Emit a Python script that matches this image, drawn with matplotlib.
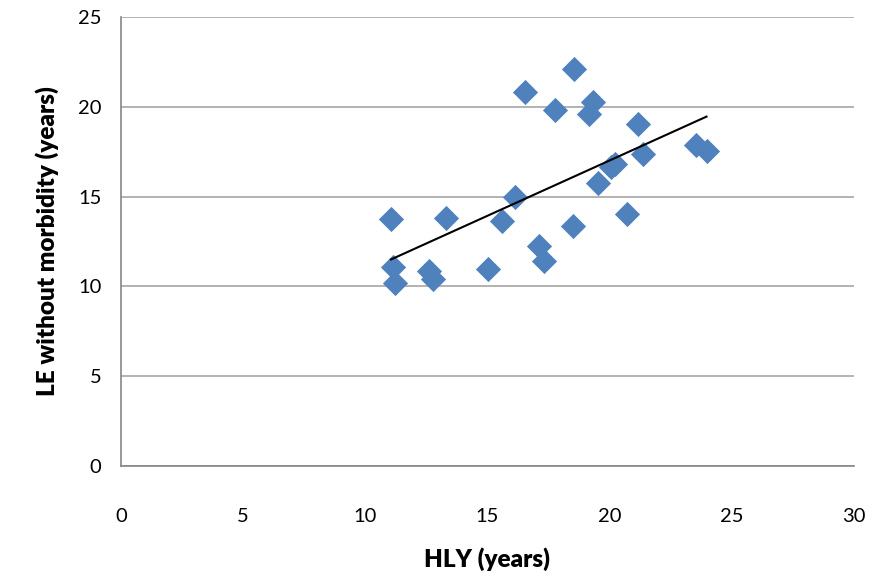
import numpy as np
import matplotlib
matplotlib.use("Agg")
import matplotlib.pyplot as plt

# HLY (years) vs LE without morbidity (years)
hly = [11.05, 13.29, 11.12, 11.23, 12.62, 12.79, 15.02, 15.58, 16.15, 16.54,
       17.11, 17.31, 17.77, 18.49, 18.54, 19.33, 19.14, 19.52, 20.04, 20.22,
       20.71, 21.15, 21.38, 23.56, 23.97]
le_free = [13.75, 13.79, 11.06, 10.21, 10.86, 10.39, 10.95, 13.66, 14.99, 20.84,
           12.25, 11.43, 19.82, 13.36, 22.10, 20.29, 19.58, 15.74, 16.63, 16.81,
           14.03, 19.04, 17.37, 17.87, 17.54]
x_ticks = [0, 5, 10, 15, 20, 25, 30]
y_ticks = [0, 5, 10, 15, 20, 25]

plt.rcParams['font.family'] = ['Lato', 'DejaVu Sans']

fig = plt.figure(figsize=(8.73, 5.81), dpi=100)
ax = fig.add_axes([0.1386, 0.198, 0.8394, 0.7727])

ax.scatter(hly, le_free, marker='D', s=165, color='#4F81BD', zorder=3, linewidths=0)

# linear trend line over the data range
k, b = np.polyfit(hly, le_free, 1)
xs = np.array([min(hly), max(hly)])
ax.plot(xs, k * xs + b, color='black', lw=1.5, zorder=4)

ax.set_xlim(0, 30)
ax.set_ylim(0, 25)
ax.set_xticks(x_ticks)
ax.set_yticks(y_ticks)
ax.yaxis.grid(True, color='#a6a6a6', lw=1.2)
ax.set_axisbelow(True)
for s in ['top', 'right']:
    ax.spines[s].set_visible(False)
for s in ['left', 'bottom']:
    ax.spines[s].set_color('#868686')
    ax.spines[s].set_linewidth(1.2)
ax.tick_params(axis='both', length=0, labelsize=14.5)
ax.tick_params(axis='x', pad=30)
ax.tick_params(axis='y', pad=14)

ax.set_xlabel('HLY (years)', fontsize=17.5, fontweight='heavy', labelpad=16)
ax.set_ylabel('LE without morbidity (years)', fontsize=17.5, fontweight='heavy', labelpad=14)

fig.savefig('out.png', dpi=100)
